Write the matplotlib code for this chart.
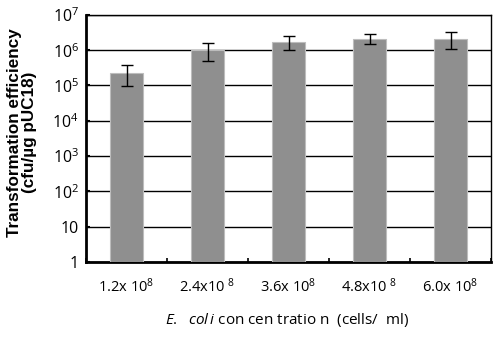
import matplotlib.pyplot as plt
import numpy as np

plt.rcParams['font.family'] = ['Open Sans', 'DejaVu Sans']
plt.rcParams['mathtext.fontset'] = 'custom'
plt.rcParams['mathtext.rm'] = 'Open Sans'
plt.rcParams['mathtext.it'] = 'Open Sans:italic'
plt.rcParams['mathtext.default'] = 'regular'

# data
conc_labels = ['1.2x 10$^{8}$', '2.4x10 $^{8}$', '3.6x 10$^{8}$', '4.8x10 $^{8}$', '6.0x 10$^{8}$']
efficiency = [2.3e5, 1.0e6, 1.67e6, 2.13e6, 2.13e6]
err_low = [9.7e4, 4.9e5, 1.0e6, 1.5e6, 1.1e6]
err_high = [3.8e5, 1.56e6, 2.47e6, 2.8e6, 3.2e6]
ytick_vals = [1, 10, 1e2, 1e3, 1e4, 1e5, 1e6, 1e7]
ytick_labels = ['1', '10', '10$^{2}$', '10$^{3}$', '10$^{4}$', '10$^{5}$', '10$^{6}$', '10$^{7}$']

fig = plt.figure(figsize=(5, 3.38), dpi=100)
ax = fig.add_axes([0.172, 0.225, 0.81, 0.731])

x = np.arange(len(efficiency))
yerr = [np.array(efficiency) - np.array(err_low), np.array(err_high) - np.array(efficiency)]
ax.bar(x, efficiency, width=0.4, color='#8f8f8f', edgecolor='#bdbdbd', linewidth=0.8,
       zorder=3)
ax.errorbar(x, efficiency, yerr=yerr, fmt='none', ecolor='black', elinewidth=1,
            capsize=4, capthick=1, zorder=4)

ax.set_yscale('log')
ax.set_ylim(1, 1e7)
ax.set_xlim(-0.5, 4.5)
ax.set_yticks(ytick_vals)
ax.set_yticklabels(ytick_labels, fontsize=11.5)
ax.yaxis.set_minor_locator(plt.NullLocator())
ax.tick_params(axis='y', direction='in', length=3, width=1.5, pad=5)
ax.grid(axis='y', color='black', linewidth=1, zorder=1)

ax.set_xticks(x)
ax.set_xticklabels(conc_labels, fontsize=10.5)
ax.set_xticks(np.arange(-0.5, 5, 1), minor=True)
ax.tick_params(axis='x', which='major', length=0, pad=11)
ax.tick_params(axis='x', which='minor', direction='in', length=3, width=1.2)

ax.spines['left'].set_linewidth(2)
ax.spines['bottom'].set_linewidth(2)
ax.spines['top'].set_linewidth(1)
ax.spines['right'].set_linewidth(1)

ax.set_ylabel('Transformation efficiency\n(cfu/µg pUC18)', family=['Liberation Sans', 'DejaVu Sans'],
              fontweight='bold', fontsize=12.3, linespacing=1.0)
ax.yaxis.set_label_coords(-0.12, 0.525)
fig.text(0.575, 0.052, r'$\mathit{E.\ \ col\,i}$ con cen tratio n  (cells/  ml)',
         ha='center', va='center', fontsize=11)

fig.savefig('out.png', dpi=100)
